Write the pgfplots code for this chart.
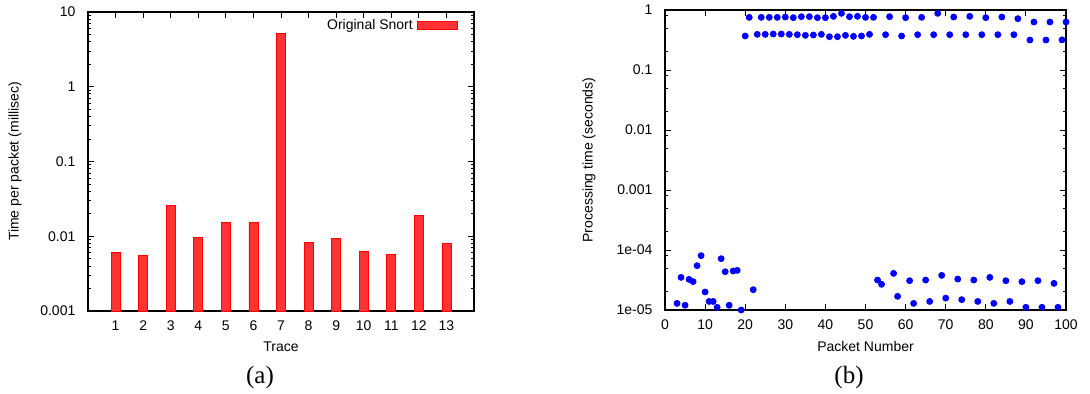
\documentclass[border=0pt]{standalone}
\usepackage{fontspec}
\setmainfont{Liberation Sans}
\newfontfamily\capfont{Liberation Serif}
\usepackage{pgfplots}
\pgfplotsset{compat=1.18}
\definecolor{barred}{RGB}{255,51,51}
\definecolor{dotblue}{RGB}{0,0,255}
\begin{document}
\begin{tikzpicture}
\path[use as bounding box] (0pt,0pt) rectangle (545pt,196.5pt);
\pgfplotsset{every axis/.append style={
  scale only axis,
  font=\fontsize{7}{8}\selectfont,
  /pgf/number format/assume math mode=true,
  tick align=inside,
  axis line style={line width=0.6pt},
  every tick/.style={black, line width=0.5pt},
  major tick length=3pt, minor tick length=1.6pt,
  xticklabel style={yshift=-1.2pt},
  yticklabel style={xshift=-2.8pt},
}}
% ---------------- (a)
\begin{axis}[at={(44pt,41pt)}, anchor=south west, width=193pt, height=149.5pt,
  ymode=log, log origin=infty, ymin=0.001, ymax=10, xmin=0, xmax=14,
  xtick={1,...,13},
  ytick={0.001,0.01,0.1,1,10}, yticklabels={0.001,0.01,0.1,1,10},
  xlabel={Trace}, ylabel={Time per packet (millisec)},
  x label style={at={(axis description cs:0.5,-0.120)}, anchor=center},
  y label style={at={(axis description cs:-0.189,0.5)}, anchor=center},
  legend plot pos=right,
  legend cell align=right,
  legend style={draw=none, fill=none, at={(rel axis cs:0.9585,0.954)}, anchor=east, inner sep=0pt, font=\fontsize{7}{8}\selectfont},
  legend image code/.code={\draw[fill=barred, draw=red, line width=0.4pt] (0pt,-2pt) rectangle (20pt,2pt);},
]
\addplot[ybar, bar width=4.5pt, fill=barred, draw=red, line width=0.4pt]
  coordinates {(1,0.00604) (2,0.00557) (3,0.0258) (4,0.0097) (5,0.0151) (6,0.0154) (7,5.23) (8,0.00823) (9,0.0094) (10,0.00636) (11,0.00574) (12,0.0189) (13,0.00798)};
\addlegendentry{Original Snort}
\end{axis}
\node[font=\capfont\fontsize{12.5}{14}\selectfont] at (130pt,8pt) {(a)};
% ---------------- (b)
\begin{axis}[at={(332.5pt,41.5pt)}, anchor=south west, width=200.5pt, height=150pt,
  ymode=log, ymin=1e-5, ymax=1, xmin=0, xmax=100,
  xtick={0,10,...,100},
  ytick={1e-5,1e-4,0.001,0.01,0.1,1}, yticklabels={1e-05,1e-04,0.001,0.01,0.1,1},
  minor ytick={2e-5,5e-5,8e-5,2e-4,5e-4,8e-4,2e-3,5e-3,8e-3,2e-2,5e-2,8e-2,2e-1,5e-1,8e-1},
  xlabel={Packet Number}, ylabel={Processing time (seconds)},
  x label style={at={(axis description cs:0.5,-0.122)}, anchor=center},
  y label style={at={(axis description cs:-0.1895,0.5)}, anchor=center},
  clip=false,
]
\addplot[only marks, mark=*, mark size=1.5pt, mark options={draw=dotblue, fill=dotblue}, color=dotblue]
  coordinates {
  (21,0.755) (24,0.755) (26,0.755) (28,0.755) (30,0.764) (32,0.745) (34,0.774) (36,0.774)
  (38,0.745) (40,0.745) (42,0.784) (44,0.880) (46,0.774) (48,0.784) (50,0.755) (52,0.755)
  (56,0.774) (60,0.745) (64,0.755) (68,0.880) (72,0.764) (76,0.784) (80,0.745) (84,0.764)
  (88,0.717) (92,0.631) (96,0.631) (100,0.631)
  (20,0.369) (23,0.393) (25,0.393) (27,0.398) (29,0.398) (31,0.393) (33,0.388) (35,0.378)
  (37,0.383) (39,0.393) (41,0.359) (43,0.359) (45,0.378) (47,0.364) (49,0.369) (51,0.393)
  (55,0.388) (59,0.369) (63,0.388) (67,0.388) (71,0.388) (75,0.388) (79,0.388) (83,0.388)
  (87,0.388) (91,0.316) (95,0.316) (99,0.318)
  (3,1.29e-5) (4,3.5e-5) (5,1.2e-5) (6,3.24e-5) (7,2.97e-5) (8,5.48e-5) (9,8.05e-5) (10,2.0e-5)
  (11,1.39e-5) (12,1.39e-5) (13,1.11e-5) (14,7.17e-5) (15,4.35e-5) (16,1.2e-5) (17,4.47e-5)
  (18,4.58e-5) (19,1.0e-5) (22,2.18e-5)
  (53,3.16e-5) (54,2.68e-5) (57,4.08e-5) (58,1.69e-5) (61,3.08e-5) (62,1.29e-5) (65,3.16e-5)
  (66,1.39e-5) (69,3.78e-5) (70,1.58e-5) (73,3.28e-5) (74,1.49e-5) (77,3.16e-5) (78,1.39e-5)
  (81,3.5e-5) (82,1.29e-5) (85,3.08e-5) (86,1.39e-5) (89,2.97e-5) (90,1.11e-5) (93,3.08e-5)
  (94,1.11e-5) (97,2.78e-5) (98,1.11e-5)
  };
\end{axis}
\node[font=\capfont\fontsize{12.5}{14}\selectfont] at (424.5pt,8pt) {(b)};
\end{tikzpicture}
\end{document}
